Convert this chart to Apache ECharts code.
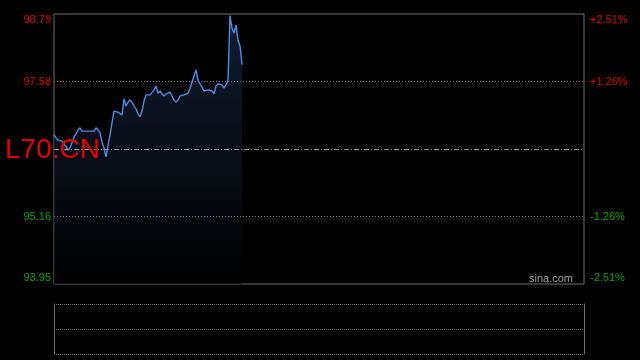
<!DOCTYPE html>
<html>
<head>
<meta charset="utf-8">
<script src="https://cdn.jsdelivr.net/npm/echarts@6/dist/echarts.min.js"></script>
<style>
html,body{margin:0;padding:0;background:#000;}
#c{width:640px;height:360px;}
</style>
</head>
<body>
<div id="c"></div>
<script>
// ---- data ----
var prevClose = 96.37;
var priceMin = 93.95;
var priceMax = 98.79;
var pctMin = -2.51;
var pctMax = 2.51;
var pctStep = 1.255;
var priceTickLabels = ['93.95', '95.16', '', '97.58', '98.79'];
var pctTickLabels = ['-2.51%', '-1.26%', '', '+1.26%', '+2.51%'];
var gridPrices = [97.58, 95.16];
var totalSlots = 266;
var prices = [
  96.62, 96.57, 96.53, 96.55, 96.51, 96.46, 96.42, 96.35, 96.39, 96.48,
  96.59, 96.64, 96.71, 96.75, 96.69, 96.67, 96.69, 96.66, 96.69, 96.67,
  96.69, 96.75, 96.71, 96.66, 96.50, 96.39, 96.23, 96.44, 96.62, 96.84,
  97.05, 97.07, 97.03, 97.03, 96.98, 97.27, 97.14, 97.21, 97.25, 97.21,
  97.14, 97.09, 97.00, 96.95, 97.05, 97.23, 97.34, 97.36, 97.34, 97.36,
  97.43, 97.50, 97.37, 97.41, 97.36, 97.32, 97.36, 97.37, 97.39, 97.32,
  97.25, 97.21, 97.25, 97.32, 97.34, 97.34, 97.36, 97.37, 97.46, 97.57,
  97.68, 97.79, 97.61, 97.54, 97.48, 97.41, 97.39, 97.43, 97.45, 97.41,
  97.36, 97.50, 97.54, 97.57, 97.52, 97.46, 97.45, 97.59, 98.76, 98.54,
  98.45, 98.59, 98.32, 98.22, 97.88
];

var categories = [];
for (var i = 0; i < totalSlots; i++) categories.push(String(i));

function tickIndex(v) { return Math.round((v - pctMin) / pctStep); }

var FONT = 'Arial, "Liberation Sans", sans-serif';
var RED = '#e00000';
var GREEN = '#00a800';
var BORDER = '#6e6e6e';

function richLabel(text, idx) {
  if (!text) return '';
  var color = idx > 2 ? 'r' : 'g';
  var pos = idx === 4 ? 't' : (idx === 0 ? 'b' : 'm');
  return '{' + color + pos + '|' + text + '}';
}
var rich = {
  rt: {color: RED, padding: [12, 0, 0, 0], fontSize: 11, fontFamily: FONT},
  rm: {color: RED, fontSize: 11, fontFamily: FONT},
  rb: {color: RED, padding: [0, 0, 12, 0], fontSize: 11, fontFamily: FONT},
  gt: {color: GREEN, padding: [12, 0, 0, 0], fontSize: 11, fontFamily: FONT},
  gm: {color: GREEN, fontSize: 11, fontFamily: FONT},
  gb: {color: GREEN, padding: [0, 0, 12, 0], fontSize: 11, fontFamily: FONT}
};

var chart = echarts.init(document.getElementById('c'), null, {renderer: 'canvas'});
chart.setOption({
  backgroundColor: '#000',
  animation: false,
  grid: [
    {left: 54, right: 56, top: 14, height: 270, show: true, borderColor: BORDER, borderWidth: 1, backgroundColor: 'transparent'},
    {left: 54, right: 56, top: 304, height: 50}
  ],
  xAxis: [
    {type: 'category', gridIndex: 0, data: categories, boundaryGap: false, show: false},
    {type: 'category', gridIndex: 1, data: categories, boundaryGap: false, show: false}
  ],
  yAxis: [
    {
      type: 'value', gridIndex: 0, position: 'left', min: pctMin, max: pctMax, interval: pctStep,
      axisLine: {show: false}, axisTick: {show: false}, splitLine: {show: false},
      axisLabel: {margin: 3, formatter: function (v) { var i = tickIndex(v); return richLabel(priceTickLabels[i], i); }, rich: rich}
    },
    {
      type: 'value', gridIndex: 0, position: 'right', min: pctMin, max: pctMax, interval: pctStep,
      axisLine: {show: false}, axisTick: {show: false}, splitLine: {show: false},
      axisLabel: {margin: 6, formatter: function (v) { var i = tickIndex(v); return richLabel(pctTickLabels[i], i); }, rich: rich}
    },
    {type: 'value', gridIndex: 0, min: priceMin, max: priceMax, show: false},
    {
      type: 'value', gridIndex: 1, position: 'left', min: 0, max: 2, interval: 1,
      axisLine: {show: true, lineStyle: {color: BORDER, width: 1}}, axisTick: {show: false}, axisLabel: {show: false},
      splitLine: {show: true, lineStyle: {color: '#7a7a7a', type: [1, 1], width: 1}}
    },
    {
      type: 'value', gridIndex: 1, position: 'right', min: 0, max: 2, interval: 1,
      axisLine: {show: true, lineStyle: {color: BORDER, width: 1}}, axisTick: {show: false}, axisLabel: {show: false},
      splitLine: {show: false}
    }
  ],
  series: [
    {
      type: 'line', xAxisIndex: 0, yAxisIndex: 2, data: prices, showSymbol: false, symbol: 'none',
      lineStyle: {color: '#4d8ceb', width: 1.4},
      areaStyle: {
        origin: 'start',
        color: new echarts.graphic.LinearGradient(0, 0, 0, 1, [
          {offset: 0, color: 'rgb(26,40,68)'},
          {offset: 1, color: 'rgb(0,0,0)'}
        ])
      },
      markLine: {
        silent: true, symbol: 'none', label: {show: false}, animation: false,
        data: [
          {yAxis: gridPrices[0], lineStyle: {color: '#7a7a7a', type: [1, 2], width: 1}},
          {yAxis: gridPrices[1], lineStyle: {color: '#7a7a7a', type: [1, 2], width: 1}},
          {yAxis: prevClose, lineStyle: {color: '#9a9a9a', type: [5, 2, 1, 2], width: 1}}
        ]
      },
      z: 3
    }
  ],
  graphic: [
    {type: 'text', left: 5, top: 136, z: 10, style: {text: 'L70.CN', fill: '#e60000', font: '28px ' + FONT}},
    {type: 'text', right: 67, top: 273, z: 10, style: {text: 'sina.com', fill: '#a0a0a0', font: '11px ' + FONT}}
  ]
});
</script>
</body>
</html>
